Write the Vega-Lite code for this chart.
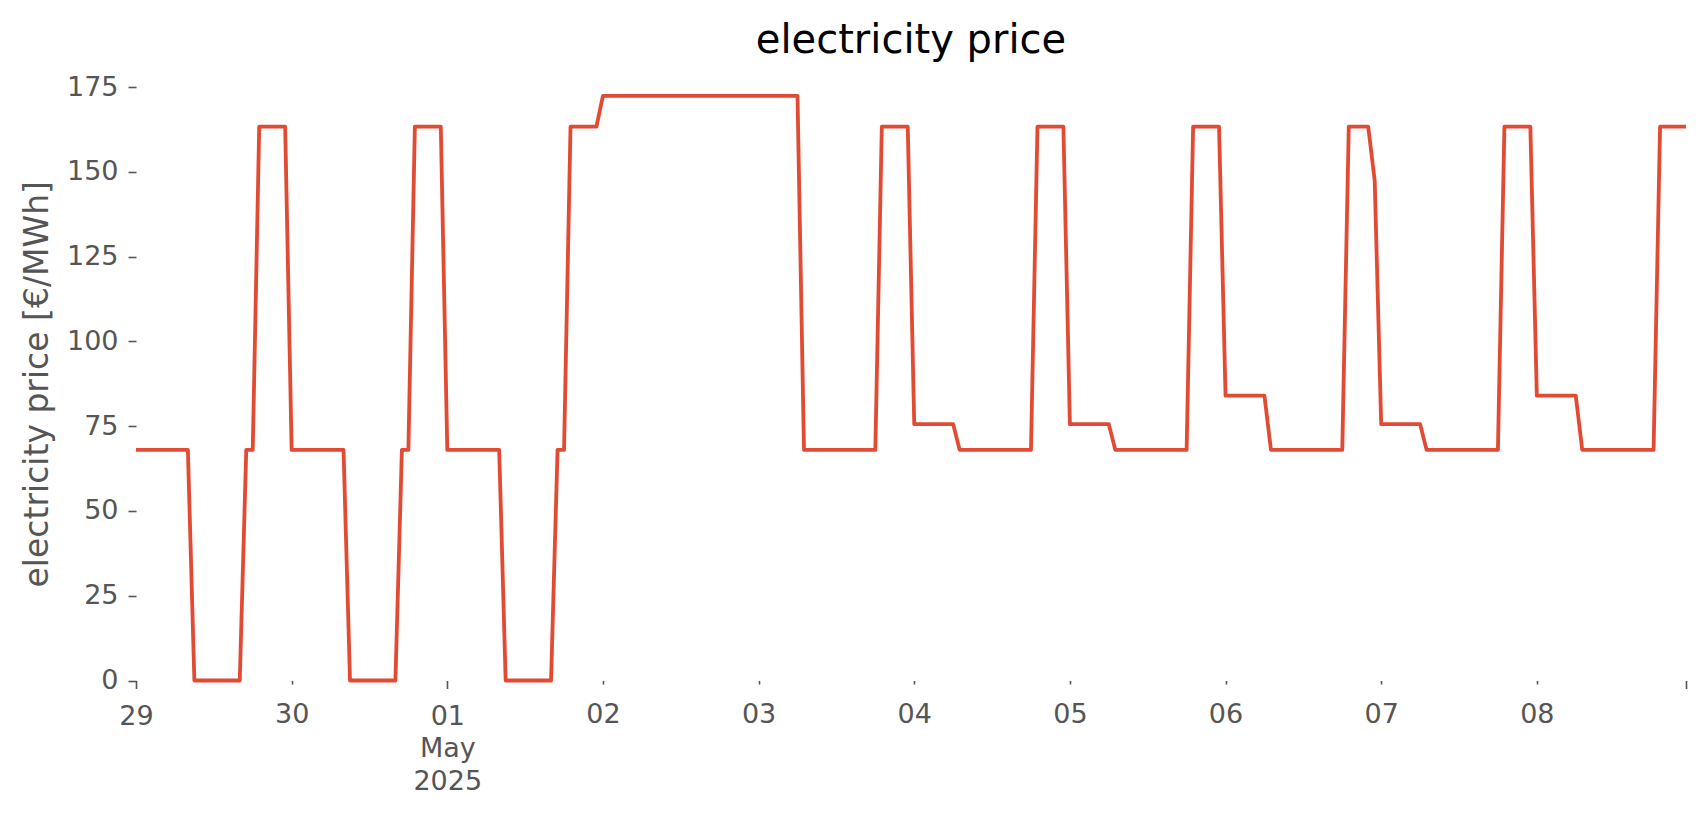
{
  "$schema": "https://vega.github.io/schema/vega-lite/v6.json",
  "autosize": {"type": "none"},
  "width": 1550,
  "height": 593.5,
  "padding": {"left": 136, "top": 87, "right": 20, "bottom": 134.5},
  "background": "white",
  "title": {"text": "electricity price", "font": "DejaVu Sans", "fontSize": 40, "fontWeight": "normal", "color": "#000000", "anchor": "middle", "frame": "group", "baseline": "alphabetic", "offset": -20},
  "config": {"view": {"stroke": null}},
  "data": {"values": [
    {"t":"2025-04-29T00:00Z","p":68},{"t":"2025-04-29T01:00Z","p":68},{"t":"2025-04-29T02:00Z","p":68},{"t":"2025-04-29T03:00Z","p":68},{"t":"2025-04-29T04:00Z","p":68},{"t":"2025-04-29T05:00Z","p":68},{"t":"2025-04-29T06:00Z","p":68},{"t":"2025-04-29T07:00Z","p":68},{"t":"2025-04-29T08:00Z","p":68},{"t":"2025-04-29T09:00Z","p":0},{"t":"2025-04-29T10:00Z","p":0},{"t":"2025-04-29T11:00Z","p":0},{"t":"2025-04-29T12:00Z","p":0},{"t":"2025-04-29T13:00Z","p":0},{"t":"2025-04-29T14:00Z","p":0},{"t":"2025-04-29T15:00Z","p":0},{"t":"2025-04-29T16:00Z","p":0},{"t":"2025-04-29T17:00Z","p":68},{"t":"2025-04-29T18:00Z","p":68},{"t":"2025-04-29T19:00Z","p":163.3},{"t":"2025-04-29T20:00Z","p":163.3},{"t":"2025-04-29T21:00Z","p":163.3},{"t":"2025-04-29T22:00Z","p":163.3},{"t":"2025-04-29T23:00Z","p":163.3},
    {"t":"2025-04-30T00:00Z","p":68},{"t":"2025-04-30T01:00Z","p":68},{"t":"2025-04-30T02:00Z","p":68},{"t":"2025-04-30T03:00Z","p":68},{"t":"2025-04-30T04:00Z","p":68},{"t":"2025-04-30T05:00Z","p":68},{"t":"2025-04-30T06:00Z","p":68},{"t":"2025-04-30T07:00Z","p":68},{"t":"2025-04-30T08:00Z","p":68},{"t":"2025-04-30T09:00Z","p":0},{"t":"2025-04-30T10:00Z","p":0},{"t":"2025-04-30T11:00Z","p":0},{"t":"2025-04-30T12:00Z","p":0},{"t":"2025-04-30T13:00Z","p":0},{"t":"2025-04-30T14:00Z","p":0},{"t":"2025-04-30T15:00Z","p":0},{"t":"2025-04-30T16:00Z","p":0},{"t":"2025-04-30T17:00Z","p":68},{"t":"2025-04-30T18:00Z","p":68},{"t":"2025-04-30T19:00Z","p":163.3},{"t":"2025-04-30T20:00Z","p":163.3},{"t":"2025-04-30T21:00Z","p":163.3},{"t":"2025-04-30T22:00Z","p":163.3},{"t":"2025-04-30T23:00Z","p":163.3},
    {"t":"2025-05-01T00:00Z","p":68},{"t":"2025-05-01T01:00Z","p":68},{"t":"2025-05-01T02:00Z","p":68},{"t":"2025-05-01T03:00Z","p":68},{"t":"2025-05-01T04:00Z","p":68},{"t":"2025-05-01T05:00Z","p":68},{"t":"2025-05-01T06:00Z","p":68},{"t":"2025-05-01T07:00Z","p":68},{"t":"2025-05-01T08:00Z","p":68},{"t":"2025-05-01T09:00Z","p":0},{"t":"2025-05-01T10:00Z","p":0},{"t":"2025-05-01T11:00Z","p":0},{"t":"2025-05-01T12:00Z","p":0},{"t":"2025-05-01T13:00Z","p":0},{"t":"2025-05-01T14:00Z","p":0},{"t":"2025-05-01T15:00Z","p":0},{"t":"2025-05-01T16:00Z","p":0},{"t":"2025-05-01T17:00Z","p":68},{"t":"2025-05-01T18:00Z","p":68},{"t":"2025-05-01T19:00Z","p":163.3},{"t":"2025-05-01T20:00Z","p":163.3},{"t":"2025-05-01T21:00Z","p":163.3},{"t":"2025-05-01T22:00Z","p":163.3},{"t":"2025-05-01T23:00Z","p":163.3},
    {"t":"2025-05-02T00:00Z","p":172.4},{"t":"2025-05-02T01:00Z","p":172.4},{"t":"2025-05-02T02:00Z","p":172.4},{"t":"2025-05-02T03:00Z","p":172.4},{"t":"2025-05-02T04:00Z","p":172.4},{"t":"2025-05-02T05:00Z","p":172.4},{"t":"2025-05-02T06:00Z","p":172.4},{"t":"2025-05-02T07:00Z","p":172.4},{"t":"2025-05-02T08:00Z","p":172.4},{"t":"2025-05-02T09:00Z","p":172.4},{"t":"2025-05-02T10:00Z","p":172.4},{"t":"2025-05-02T11:00Z","p":172.4},{"t":"2025-05-02T12:00Z","p":172.4},{"t":"2025-05-02T13:00Z","p":172.4},{"t":"2025-05-02T14:00Z","p":172.4},{"t":"2025-05-02T15:00Z","p":172.4},{"t":"2025-05-02T16:00Z","p":172.4},{"t":"2025-05-02T17:00Z","p":172.4},{"t":"2025-05-02T18:00Z","p":172.4},{"t":"2025-05-02T19:00Z","p":172.4},{"t":"2025-05-02T20:00Z","p":172.4},{"t":"2025-05-02T21:00Z","p":172.4},{"t":"2025-05-02T22:00Z","p":172.4},{"t":"2025-05-02T23:00Z","p":172.4},
    {"t":"2025-05-03T00:00Z","p":172.4},{"t":"2025-05-03T01:00Z","p":172.4},{"t":"2025-05-03T02:00Z","p":172.4},{"t":"2025-05-03T03:00Z","p":172.4},{"t":"2025-05-03T04:00Z","p":172.4},{"t":"2025-05-03T05:00Z","p":172.4},{"t":"2025-05-03T06:00Z","p":172.4},{"t":"2025-05-03T07:00Z","p":68},{"t":"2025-05-03T08:00Z","p":68},{"t":"2025-05-03T09:00Z","p":68},{"t":"2025-05-03T10:00Z","p":68},{"t":"2025-05-03T11:00Z","p":68},{"t":"2025-05-03T12:00Z","p":68},{"t":"2025-05-03T13:00Z","p":68},{"t":"2025-05-03T14:00Z","p":68},{"t":"2025-05-03T15:00Z","p":68},{"t":"2025-05-03T16:00Z","p":68},{"t":"2025-05-03T17:00Z","p":68},{"t":"2025-05-03T18:00Z","p":68},{"t":"2025-05-03T19:00Z","p":163.3},{"t":"2025-05-03T20:00Z","p":163.3},{"t":"2025-05-03T21:00Z","p":163.3},{"t":"2025-05-03T22:00Z","p":163.3},{"t":"2025-05-03T23:00Z","p":163.3},
    {"t":"2025-05-04T00:00Z","p":75.6},{"t":"2025-05-04T01:00Z","p":75.6},{"t":"2025-05-04T02:00Z","p":75.6},{"t":"2025-05-04T03:00Z","p":75.6},{"t":"2025-05-04T04:00Z","p":75.6},{"t":"2025-05-04T05:00Z","p":75.6},{"t":"2025-05-04T06:00Z","p":75.6},{"t":"2025-05-04T07:00Z","p":68},{"t":"2025-05-04T08:00Z","p":68},{"t":"2025-05-04T09:00Z","p":68},{"t":"2025-05-04T10:00Z","p":68},{"t":"2025-05-04T11:00Z","p":68},{"t":"2025-05-04T12:00Z","p":68},{"t":"2025-05-04T13:00Z","p":68},{"t":"2025-05-04T14:00Z","p":68},{"t":"2025-05-04T15:00Z","p":68},{"t":"2025-05-04T16:00Z","p":68},{"t":"2025-05-04T17:00Z","p":68},{"t":"2025-05-04T18:00Z","p":68},{"t":"2025-05-04T19:00Z","p":163.3},{"t":"2025-05-04T20:00Z","p":163.3},{"t":"2025-05-04T21:00Z","p":163.3},{"t":"2025-05-04T22:00Z","p":163.3},{"t":"2025-05-04T23:00Z","p":163.3},
    {"t":"2025-05-05T00:00Z","p":75.6},{"t":"2025-05-05T01:00Z","p":75.6},{"t":"2025-05-05T02:00Z","p":75.6},{"t":"2025-05-05T03:00Z","p":75.6},{"t":"2025-05-05T04:00Z","p":75.6},{"t":"2025-05-05T05:00Z","p":75.6},{"t":"2025-05-05T06:00Z","p":75.6},{"t":"2025-05-05T07:00Z","p":68},{"t":"2025-05-05T08:00Z","p":68},{"t":"2025-05-05T09:00Z","p":68},{"t":"2025-05-05T10:00Z","p":68},{"t":"2025-05-05T11:00Z","p":68},{"t":"2025-05-05T12:00Z","p":68},{"t":"2025-05-05T13:00Z","p":68},{"t":"2025-05-05T14:00Z","p":68},{"t":"2025-05-05T15:00Z","p":68},{"t":"2025-05-05T16:00Z","p":68},{"t":"2025-05-05T17:00Z","p":68},{"t":"2025-05-05T18:00Z","p":68},{"t":"2025-05-05T19:00Z","p":163.3},{"t":"2025-05-05T20:00Z","p":163.3},{"t":"2025-05-05T21:00Z","p":163.3},{"t":"2025-05-05T22:00Z","p":163.3},{"t":"2025-05-05T23:00Z","p":163.3},
    {"t":"2025-05-06T00:00Z","p":84},{"t":"2025-05-06T01:00Z","p":84},{"t":"2025-05-06T02:00Z","p":84},{"t":"2025-05-06T03:00Z","p":84},{"t":"2025-05-06T04:00Z","p":84},{"t":"2025-05-06T05:00Z","p":84},{"t":"2025-05-06T06:00Z","p":84},{"t":"2025-05-06T07:00Z","p":68},{"t":"2025-05-06T08:00Z","p":68},{"t":"2025-05-06T09:00Z","p":68},{"t":"2025-05-06T10:00Z","p":68},{"t":"2025-05-06T11:00Z","p":68},{"t":"2025-05-06T12:00Z","p":68},{"t":"2025-05-06T13:00Z","p":68},{"t":"2025-05-06T14:00Z","p":68},{"t":"2025-05-06T15:00Z","p":68},{"t":"2025-05-06T16:00Z","p":68},{"t":"2025-05-06T17:00Z","p":68},{"t":"2025-05-06T18:00Z","p":68},{"t":"2025-05-06T19:00Z","p":163.3},{"t":"2025-05-06T20:00Z","p":163.3},{"t":"2025-05-06T21:00Z","p":163.3},{"t":"2025-05-06T22:00Z","p":163.3},{"t":"2025-05-06T23:00Z","p":147.4},
    {"t":"2025-05-07T00:00Z","p":75.6},{"t":"2025-05-07T01:00Z","p":75.6},{"t":"2025-05-07T02:00Z","p":75.6},{"t":"2025-05-07T03:00Z","p":75.6},{"t":"2025-05-07T04:00Z","p":75.6},{"t":"2025-05-07T05:00Z","p":75.6},{"t":"2025-05-07T06:00Z","p":75.6},{"t":"2025-05-07T07:00Z","p":68},{"t":"2025-05-07T08:00Z","p":68},{"t":"2025-05-07T09:00Z","p":68},{"t":"2025-05-07T10:00Z","p":68},{"t":"2025-05-07T11:00Z","p":68},{"t":"2025-05-07T12:00Z","p":68},{"t":"2025-05-07T13:00Z","p":68},{"t":"2025-05-07T14:00Z","p":68},{"t":"2025-05-07T15:00Z","p":68},{"t":"2025-05-07T16:00Z","p":68},{"t":"2025-05-07T17:00Z","p":68},{"t":"2025-05-07T18:00Z","p":68},{"t":"2025-05-07T19:00Z","p":163.3},{"t":"2025-05-07T20:00Z","p":163.3},{"t":"2025-05-07T21:00Z","p":163.3},{"t":"2025-05-07T22:00Z","p":163.3},{"t":"2025-05-07T23:00Z","p":163.3},
    {"t":"2025-05-08T00:00Z","p":84},{"t":"2025-05-08T01:00Z","p":84},{"t":"2025-05-08T02:00Z","p":84},{"t":"2025-05-08T03:00Z","p":84},{"t":"2025-05-08T04:00Z","p":84},{"t":"2025-05-08T05:00Z","p":84},{"t":"2025-05-08T06:00Z","p":84},{"t":"2025-05-08T07:00Z","p":68},{"t":"2025-05-08T08:00Z","p":68},{"t":"2025-05-08T09:00Z","p":68},{"t":"2025-05-08T10:00Z","p":68},{"t":"2025-05-08T11:00Z","p":68},{"t":"2025-05-08T12:00Z","p":68},{"t":"2025-05-08T13:00Z","p":68},{"t":"2025-05-08T14:00Z","p":68},{"t":"2025-05-08T15:00Z","p":68},{"t":"2025-05-08T16:00Z","p":68},{"t":"2025-05-08T17:00Z","p":68},{"t":"2025-05-08T18:00Z","p":68},{"t":"2025-05-08T19:00Z","p":163.3},{"t":"2025-05-08T20:00Z","p":163.3},{"t":"2025-05-08T21:00Z","p":163.3},{"t":"2025-05-08T22:00Z","p":163.3},{"t":"2025-05-08T23:00Z","p":163.3}
  ]},
  "mark": {"type": "line", "color": "#E24A33", "strokeWidth": 3.8, "strokeJoin": "round", "strokeCap": "butt", "clip": false},
  "encoding": {
    "x": {
      "field": "t", "type": "temporal",
      "scale": {"type": "utc", "nice": false, "domain": [
        {"year": 2025, "month": "apr", "date": 29, "hours": 0, "utc": true},
        {"year": 2025, "month": "may", "date": 8, "hours": 23, "utc": true}
      ]},
      "axis": {
        "title": null, "domain": false, "grid": false,
        "values": [
          {"year": 2025, "month": "apr", "date": 29, "utc": true},
          {"year": 2025, "month": "apr", "date": 30, "utc": true},
          {"year": 2025, "month": "may", "date": 1, "utc": true},
          {"year": 2025, "month": "may", "date": 2, "utc": true},
          {"year": 2025, "month": "may", "date": 3, "utc": true},
          {"year": 2025, "month": "may", "date": 4, "utc": true},
          {"year": 2025, "month": "may", "date": 5, "utc": true},
          {"year": 2025, "month": "may", "date": 6, "utc": true},
          {"year": 2025, "month": "may", "date": 7, "utc": true},
          {"year": 2025, "month": "may", "date": 8, "utc": true},
          {"year": 2025, "month": "may", "date": 8, "hours": 23, "utc": true}
        ],
        "labelExpr": "utcdate(datum.value) == 1 ? ['01', 'May', '2025'] : (utchours(datum.value) == 23 ? '' : utcFormat(datum.value, '%d'))",
        "labelFont": "DejaVu Sans", "labelFontSize": 27, "labelColor": "#555555",
        "labelLineHeight": 32.5, "labelBaseline": "top", "labelAngle": 0,
        "labelFlush": false, "labelOverlap": false, "labelBound": false,
        "tickColor": "#555555", "tickWidth": 1.6,
        "tickSize": {"condition": {"test": "utcdate(datum.value) == 1 || utcdate(datum.value) == 29 || utchours(datum.value) == 23", "value": 8}, "value": 3.5},
        "labelPadding": {"condition": {"test": "utcdate(datum.value) == 1 || utcdate(datum.value) == 29 || utchours(datum.value) == 23", "value": 14.5}, "value": 17.5}
      }
    },
    "y": {
      "field": "p", "type": "quantitative",
      "scale": {"domain": [0, 175], "nice": false, "zero": true},
      "axis": {
        "title": "electricity price [€/MWh]", "titleFont": "DejaVu Sans", "titleFontSize": 33, "titleFontWeight": "normal", "titleColor": "#555555", "titlePadding": 12,
        "values": [0, 25, 50, 75, 100, 125, 150, 175],
        "domain": false, "grid": false,
        "labelFont": "DejaVu Sans", "labelFontSize": 27, "labelColor": "#555555", "labelPadding": 10,
        "tickColor": "#555555", "tickWidth": 1.6, "tickSize": 8
      }
    }
  }
}
